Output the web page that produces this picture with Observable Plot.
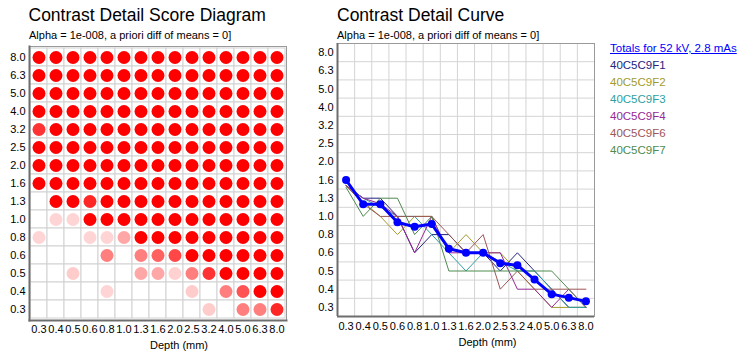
<!DOCTYPE html>
<html><head><meta charset="utf-8">
<script src="https://cdn.jsdelivr.net/npm/d3@7"></script>
<script src="https://cdn.jsdelivr.net/npm/@observablehq/plot@0.6"></script>
<style>
body{margin:0;background:#fff;font-family:"Liberation Sans",Arial,sans-serif;}
#root{position:relative;width:740px;height:352px;overflow:hidden;background:#fff;}
.t{position:absolute;white-space:nowrap;color:#000;line-height:1;}
.pl{position:absolute;top:0;}
</style></head><body><div id="root"></div>
<script>
// ---- data ----
const depths = ["0.3","0.4","0.5","0.6","0.8","1.0","1.3","1.6","2.0","2.5","3.2","4.0","5.0","6.3","8.0"];
const contrastLevels = [0.3,0.4,0.5,0.6,0.8,1.0,1.3,1.6,2.0,2.5,3.2,4.0,5.0,6.3,8.0];
const contrastLabels = ["8.0","6.3","5.0","4.0","3.2","2.5","2.0","1.6","1.3","1.0","0.8","0.6","0.5","0.4","0.3"];
// score diagram: rows top (8.0) to bottom (0.3), columns depth 0.3 .. 8.0 ; share of detections
const scores = [
  [1,1,1,1,1,1,1,1,1,1,1,1,1,1,1],
  [1,1,1,1,1,1,1,1,1,1,1,1,1,1,1],
  [1,1,1,1,1,1,1,1,1,1,1,1,1,1,1],
  [1,1,1,1,1,1,1,1,1,1,1,1,1,1,1],
  [0.8,1,1,1,1,1,1,1,1,1,1,1,1,1,1],
  [1,1,1,1,1,1,1,1,1,1,1,1,1,1,1],
  [1,1,1,1,1,1,1,1,1,1,1,1,1,1,1],
  [1,1,1,1,1,1,1,1,1,1,1,1,1,1,1],
  [0,1,1,0.85,1,1,1,1,1,1,1,1,1,1,1],
  [0,0.17,0.17,1,1,1,1,1,1,1,1,1,1,1,1],
  [0.17,0,0,0.17,0.17,0.35,1,1,1,1,1,1,1,1,1],
  [0,0,0,0,0.5,0,0.5,0.62,0.72,1,1,1,1,1,1],
  [0,0,0.2,0,0,0,0.35,0.35,0.18,0.5,0.8,1,1,1,1],
  [0,0,0,0,0.17,0,0,0,0,0.2,0,0.5,0.68,1,1],
  [0,0,0,0,0,0,0,0,0,0,0.2,0,0.5,0.5,0.85]
];
// contrast detail curves (threshold contrast per depth)
const totals = [1.6,1.19,1.19,0.93,0.88,0.91,0.64,0.6,0.6,0.54,0.53,0.45,0.37,0.35,0.33];
const f1 = [1.5,1.3,1.3,1.0,0.6,0.8,0.8,0.6,0.6,0.5,0.6,0.5,0.4,0.3,0.3];
const f2 = [1.5,1.23,1.0,0.8,1.0,1.0,0.6,0.8,0.6,0.6,0.5,0.4,0.3,0.3,0.3];
const f3 = [1.5,1.3,1.14,1.0,1.0,0.8,0.6,0.5,0.6,0.55,0.5,0.5,0.4,0.3,0.3];
const f4 = [1.5,1.3,1.2,1.0,0.6,1.0,0.6,0.6,0.6,0.6,0.4,0.4,0.3,0.4,0.3];
const f6 = [1.5,1.2,1.0,1.0,1.0,1.0,0.8,0.6,0.8,0.4,0.5,0.4,0.4,0.4,0.4];
const f7 = [1.47,1.0,1.3,1.3,0.8,1.0,0.5,0.5,0.5,0.5,0.5,0.5,0.5,0.4,0.3];
const seriesNames = ["40C5C9F1","40C5C9F2","40C5C9F3","40C5C9F4","40C5C9F6","40C5C9F7"];
const seriesColors = ["#24247e","#a39b2c","#2e9fa0","#962896","#9c5656","#4f8a4f"];
const seriesValues = [f1,f2,f3,f4,f6,f7];
const totalsName = "Totals for 52 kV, 2.8 mAs";

// ---- helpers ----
const root = document.getElementById("root");
function txt(s, x, baseline, fs, opts = {}) {
  const d = document.createElement("div");
  d.className = "t";
  d.textContent = s;
  d.style.fontSize = fs + "px";
  d.style.top = (baseline - 0.8465 * fs) + "px";
  if (opts.center) { d.style.left = x + "px"; d.style.transform = "translateX(-50%)"; }
  else d.style.left = x + "px";
  if (opts.color) d.style.color = opts.color;
  if (opts.underline) d.style.textDecoration = "underline";
  root.appendChild(d);
}
// position of a contrast value on the evenly spaced contrast rows (log interpolation between levels)
function idx(v) {
  const L = contrastLevels;
  for (let i = 0; i < L.length - 1; i++) {
    if (v <= L[i + 1]) return i + Math.log(v / L[i]) / Math.log(L[i + 1] / L[i]);
  }
  return L.length - 1;
}
const font = {fontFamily: "Liberation Sans, Arial, sans-serif", fontSize: "11px", background: "transparent", color: "#000", overflow: "visible"};

// ---- left: score diagram ----
const cells = [];
contrastLabels.forEach((c, r) => depths.forEach((d, k) => cells.push({depth: d, contrast: c, score: scores[r][k]})));
const left = Plot.plot({
  width: 300, height: 352, marginLeft: 29, marginRight: 14, marginTop: 46, marginBottom: 32,
  style: font,
  x: {type: "band", domain: depths, padding: 0, tickSize: 0, tickPadding: 5, label: null},
  y: {type: "band", domain: contrastLabels, padding: 0, tickSize: 0, tickPadding: 4, label: null},
  opacity: {type: "identity"},
  marks: [
    Plot.cell(cells, {x: "depth", y: "contrast", fill: "#fff", stroke: "#d2d2d2", strokeWidth: 1}),
    Plot.dot(cells.filter(d => d.score > 0), {x: "depth", y: "contrast", r: 6.5, fill: "#ff0000", fillOpacity: "score"}),
    Plot.frame({stroke: "#9a9a9a"}),
    Plot.frame({anchor: "left", stroke: "#6e6e6e", strokeWidth: 2}),
    Plot.frame({anchor: "bottom", stroke: "#6e6e6e", strokeWidth: 2})
  ]
});
const lw = document.createElement("div"); lw.className = "pl"; lw.style.left = "0px"; lw.appendChild(left); root.appendChild(lw);

// ---- right: contrast detail curve ----
const idxs = d3.range(depths.length);
const bounds = d3.range(depths.length + 1).map(i => i - 0.5);
const lineMarks = [];
seriesValues.forEach((vals, s) => {
  lineMarks.push(Plot.line(vals, {x: (d, i) => i, y: d => idx(d), stroke: seriesColors[s], strokeWidth: 1}));
});
const right = Plot.plot({
  width: 300, height: 352, marginLeft: 37, marginRight: 6, marginTop: 43, marginBottom: 36,
  style: font,
  x: {domain: [-0.5, 14.5], ticks: idxs, tickFormat: i => depths[i], tickSize: 0, tickPadding: 6, label: null},
  y: {domain: [-0.5, 14.5], ticks: idxs, tickFormat: i => contrastLevels[i].toFixed(1), tickSize: 0, tickPadding: 4, label: null},
  marks: [
    Plot.ruleX(bounds, {stroke: "#d4d4d4"}),
    Plot.ruleY(bounds, {stroke: "#d4d4d4"}),
    ...lineMarks,
    Plot.line(totals, {x: (d, i) => i, y: d => idx(d), stroke: "#0000ff", strokeWidth: 3}),
    Plot.dot(totals, {x: (d, i) => i, y: d => idx(d), r: 4, fill: "#0000ff"}),
    Plot.frame({stroke: "#9a9a9a"}),
    Plot.ruleX([-0.5], {stroke: "#6e6e6e", strokeWidth: 2}),
    Plot.ruleY([-0.5], {stroke: "#6e6e6e", strokeWidth: 2})
  ]
});
const rw = document.createElement("div"); rw.className = "pl"; rw.style.left = "300px"; rw.appendChild(right); root.appendChild(rw);

// ---- texts ----
txt("Contrast Detail Score Diagram", 28.5, 21.7, 17.5);
txt("Alpha = 1e-008, a priori diff of means = 0]", 29, 39, 11);
txt("Contrast Detail Curve", 337, 21.5, 17.5);
txt("Alpha = 1e-008, a priori diff of means = 0]", 337, 39, 11);
txt("Depth (mm)", 179, 349, 11, {center: true});
txt("Depth (mm)", 487.5, 346, 11, {center: true});
txt(totalsName, 610, 52.5, 11.5, {color: "#0000ff", underline: true});
seriesNames.forEach((n, i) => txt(n, 610, 70 + 17 * i, 11.5, {color: seriesColors[i]}));
</script></body></html>
